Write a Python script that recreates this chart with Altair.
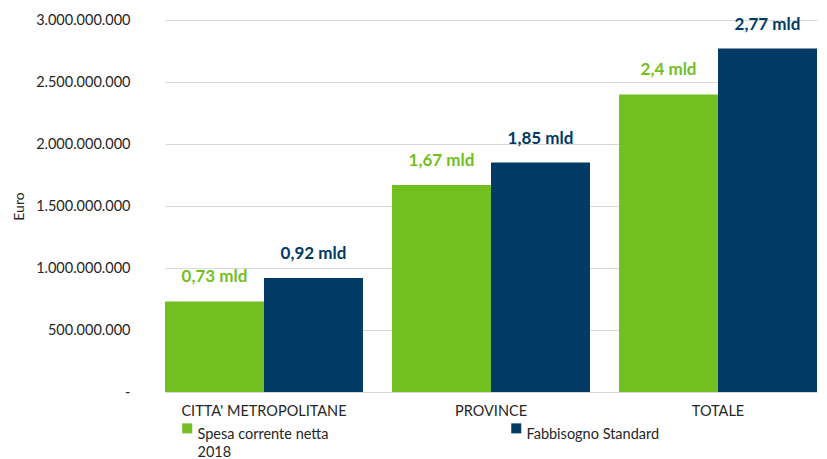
import altair as alt
import pandas as pd

categories = ["CITTA' METROPOLITANE", "PROVINCE", "TOTALE"]
series = ["Spesa corrente netta 2018", "Fabbisogno Standard"]
spesa = [730000000, 1670000000, 2400000000]
fabbisogno = [920000000, 1850000000, 2770000000]
spesa_labels = ["0,73 mld", "1,67 mld", "2,4 mld"]
fabb_labels = ["0,92 mld", "1,85 mld", "2,77 mld"]
y_ticks = [0, 500000000, 1000000000, 1500000000, 2000000000, 2500000000, 3000000000]
colors = ["#72bf21", "#003a65"]

rows = []
for i, c in enumerate(categories):
    rows.append(dict(cat=c, serie=series[0], value=spesa[i], label=spesa_labels[i]))
    rows.append(dict(cat=c, serie=series[1], value=fabbisogno[i], label=fabb_labels[i]))
df = pd.DataFrame(rows)

x = alt.X("cat:N", sort=categories, title=None,
          scale=alt.Scale(range=[15, 667], paddingInner=0.128, paddingOuter=0),
          axis=alt.Axis(labelAngle=0, labelFontSize=14.5, labelColor="#262626",
                        labelPadding=12, ticks=False, domain=False, grid=False))
xo = alt.XOffset("serie:N", sort=series, scale=alt.Scale(paddingInner=0, paddingOuter=0))
y = alt.Y("value:Q", scale=alt.Scale(domain=[0, 3000000000]),
          axis=alt.Axis(values=y_ticks, title="Euro", titleFontSize=14, titleFontWeight="normal",
                        titleColor="#262626", titleX=-124, titleY=186,
                        labelExpr="datum.value == 0 ? '-\u00a0\u00a0' : replace(format(datum.value, ','), /,/g, '.')",
                        labelFontSize=14.5, labelColor="#262626", labelPadding=20,
                        ticks=False, domain=False, gridColor="#d9d9d9", gridWidth=1))
legend = alt.Legend(title=None, orient="none", legendX=30, legendY=401, direction="horizontal",
                    columns=2, columnPadding=180, symbolType="square", symbolSize=100,
                    symbolStrokeWidth=0, labelFontSize=14.5, labelColor="#262626", labelOffset=3,
                    labelBaseline="top",
                    labelExpr="datum.label == 'Spesa corrente netta 2018' ? ['Spesa corrente netta', '2018'] : [datum.label, '']")
color = alt.Color("serie:N", sort=series, scale=alt.Scale(domain=series, range=colors), legend=legend)

bars = alt.Chart(df).mark_bar().encode(x=x, xOffset=xo, y=y, color=color)
text = alt.Chart(df).mark_text(dy=-24, fontSize=17, fontWeight="bold", font="Lato").encode(
    x=x, xOffset=xo, y=y, text="label:N", color=color)

chart = (bars + text).properties(
    width=669, height=372,
    autosize=alt.AutoSizeParams(type="none"),
    padding={"left": 142, "top": 12, "right": 0, "bottom": 67},
).configure(font="Lato", style={"guide-label": {"lineHeight": 18}}).configure_view(stroke=None)

chart.save("out.html", embed_options={"renderer": "svg", "actions": False})
